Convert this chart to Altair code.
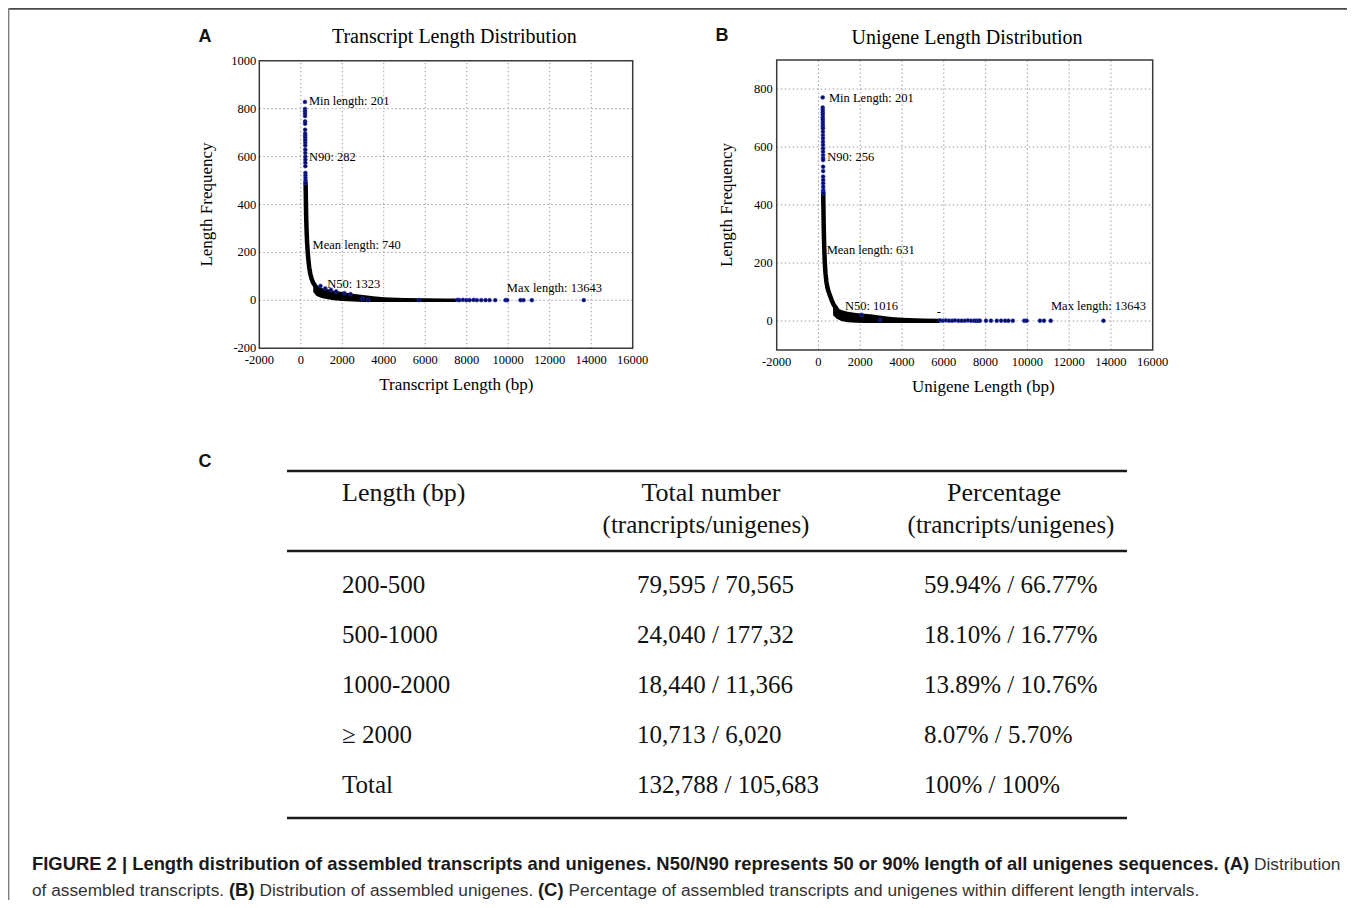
import altair as alt
import pandas as pd

W, H = 1339, 892
SERIF = "Liberation Serif"
SANS = "Liberation Sans"
INK = "#000000"
PT_FILL = "#0b0b52"
PT_STROKE = "#2436d6"

# ---------------- Panel A : transcripts ----------------
A_len_ticks = [-2000, 0, 2000, 4000, 6000, 8000, 10000, 12000, 14000, 16000]
A_freq_ticks = [-200, 0, 200, 400, 600, 800, 1000]
A_len_grid = [0, 2000, 4000, 6000, 8000, 10000, 12000, 14000]
A_freq_grid = [0, 200, 400, 600, 800]

A_col_len = [201, 203, 204, 205, 206, 207, 208, 209, 210, 211, 212, 213, 214,
             215, 216, 217, 218, 219, 220, 221, 223, 224, 226, 228, 230]
A_col_freq = [828, 799, 789, 779, 769, 747, 737, 712, 696, 687, 678, 668, 657,
              646, 629, 615, 599, 587, 574, 560, 532, 521, 511, 500, 490]

A_curve_len = [230, 240, 248, 262, 280, 305, 335, 370, 410, 460, 520, 590, 680, 780]
A_curve_freq = [490, 450, 400, 340, 290, 240, 200, 165, 135, 110, 90, 75, 62, 52]

A_band_len = [600, 760, 1000, 1300, 1600, 2000, 2500, 3000, 3500, 4000, 5000, 6000, 7000, 7500]
A_band_hi = [78, 62, 52, 46, 40, 35, 28, 22, 17, 13, 10, 9, 8, 8]
A_band_lo = [35, 18, 10, 5, 0, -3, -5, -7, -7, -7, -7, -7, -7, -7]

A_dot_len = [950, 1180, 1450, 1700, 2100, 2400, 2975, 3245, 5700, 7560, 7640, 7815,
             7979, 8138, 8330, 8489, 8700, 8907, 9100, 9375, 9870, 9952, 10592,
             10736, 11136, 13643]
A_dot_freq = [60, 50, 44, 37, 30, 26, 7, 1, 1, 2, 1, 2, 1, 1, 2, 1, 1, 1, 1, 1, 1,
              1, 1, 1, 1, 1]

A_note_text = ["Min length: 201", "N90: 282", "Mean length: 740", "N50: 1323",
               "Max length: 13643"]
A_note_len = [390, 390, 568, 1272, 9933]
A_note_freq = [833, 600, 229, 67, 53]

# ---------------- Panel B : unigenes ----------------
B_len_ticks = [-2000, 0, 2000, 4000, 6000, 8000, 10000, 12000, 14000, 16000]
B_freq_ticks = [0, 200, 400, 600, 800]
B_len_grid = [0, 2000, 4000, 6000, 8000, 10000, 12000, 14000]
B_freq_grid = [0, 200, 400, 600, 800]

B_col_len = [201, 202, 203, 204, 205, 206, 207, 208, 209, 210, 211, 212, 213, 214,
             215, 216, 217, 218, 219, 220, 221, 222, 223, 224, 225, 226, 227, 228,
             228, 228, 228]
B_col_freq = [771, 736, 728, 720, 712, 703, 695, 687, 679, 671, 664, 653, 641, 630,
              618, 607, 595, 584, 572, 561, 555, 532, 517, 498, 486, 475, 463, 452,
              446, 443, 440]

B_curve_len = [228, 235, 245, 258, 275, 300, 335, 380, 430, 490, 550, 630, 730, 870]
B_curve_freq = [440, 400, 350, 300, 255, 205, 165, 135, 115, 100, 88, 72, 56, 42]

B_band_len = [700, 870, 1100, 1400, 1800, 2200, 2500, 3000, 3500, 4000, 5000, 5800]
B_band_hi = [62, 46, 38, 32, 28, 25, 23, 18, 14, 11, 9, 8]
B_band_lo = [20, 8, 0, -4, -6, -7, -7, -7, -7, -7, -7, -7]

B_dot_len = [2068, 2945, 5816, 5950, 6100, 6250, 6400, 6535, 6700, 6850, 7000, 7150,
             7300, 7450, 7550, 7650, 7730, 8017, 8256, 8535, 8745, 8937, 9095, 9303,
             9853, 9967, 10603, 10795, 11115, 13643]
B_dot_freq = [21, 3, 2, 1, 2, 1, 1, 2, 1, 1, 1, 2, 1, 1, 1, 1, 1, 1, 1, 1, 1, 1, 1, 1,
              1, 1, 1, 1, 1, 1]

B_note_text = ["Min Length: 201", "N90: 256", "Mean length: 631", "N50: 1016",
               "Max length: 13643", "-"]
B_note_len = [503, 422, 392, 1268, 11130, 5658]
B_note_freq = [768, 566, 245, 53, 52, 30]

# ---------------- Table C ----------------
C_head1 = ["Length (bp)", "Total number", "Percentage"]
C_head2 = ["", "(trancripts/unigenes)", "(trancripts/unigenes)"]
C_len = ["200-500", "500-1000", "1000-2000", "\u2265 2000", "Total"]
C_total = ["79,595 / 70,565", "24,040 / 177,32", "18,440 / 11,366", "10,713 / 6,020",
           "132,788 / 105,683"]
C_pct = ["59.94% / 66.77%", "18.10% / 16.77%", "13.89% / 10.76%", "8.07% / 5.70%",
         "100% / 100%"]

CAP1_BOLD = ("FIGURE 2 | Length distribution of assembled transcripts and unigenes. "
             "N50/N90 represents 50 or 90% length of all unigenes sequences. (A)")
CAP1_REG = "Distribution"
CAP2 = [("of assembled transcripts.", False), ("(B)", True),
        ("Distribution of assembled unigenes.", False), ("(C)", True),
        ("Percentage of assembled transcripts and unigenes within different length intervals.", False)]


def panel(p):
    xs = alt.Scale(domain=p["xdom"], range=p["xrange"], nice=False, zero=False)
    ys = alt.Scale(domain=p["ydom"], range=p["yrange"], nice=False, zero=False)
    X = lambda f: alt.X(f, type="quantitative", scale=xs, axis=None)
    Y = lambda f: alt.Y(f, type="quantitative", scale=ys, axis=None)

    gx = alt.Chart(pd.DataFrame({"v": p["xgrid"], "lo": p["ydom"][0], "hi": p["ydom"][1]})).mark_rule(
        color="#a0a0a0", strokeDash=[1.5, 2.5], strokeWidth=1).encode(x=X("v"), y=Y("lo"), y2="hi")
    gy = alt.Chart(pd.DataFrame({"v": p["ygrid"], "lo": p["xdom"][0], "hi": p["xdom"][1]})).mark_rule(
        color="#a0a0a0", strokeDash=[1.5, 2.5], strokeWidth=1).encode(y=Y("v"), x=X("lo"), x2="hi")
    band = alt.Chart(pd.DataFrame({"l": p["band_len"], "hi": p["band_hi"], "lo": p["band_lo"]})).mark_area(
        color=INK).encode(x=X("l"), y=Y("lo"), y2="hi")
    curve = alt.Chart(pd.DataFrame({"l": p["curve_len"], "f": p["curve_freq"]})).mark_line(
        color=INK, strokeWidth=4.5, strokeCap="round").encode(x=X("l"), y=Y("f"))
    col = alt.Chart(pd.DataFrame({"l": p["col_len"], "f": p["col_freq"]})).mark_circle(
        size=15, color=PT_FILL, opacity=1, stroke=PT_STROKE, strokeWidth=0.6).encode(x=X("l"), y=Y("f"))
    dots = alt.Chart(pd.DataFrame({"l": p["dot_len"], "f": p["dot_freq"]})).mark_circle(
        size=15, color=PT_FILL, opacity=1, stroke=PT_STROKE, strokeWidth=0.6).encode(x=X("l"), y=Y("f"))
    frame = alt.Chart(pd.DataFrame({"x0": [p["xdom"][0]], "x1": [p["xdom"][1]],
                                    "y0": [p["ydom"][0]], "y1": [p["ydom"][1]]})).mark_rect(
        fillOpacity=0, stroke="#3a3a3a", strokeWidth=1.5).encode(x=X("x0"), x2="x1", y=Y("y0"), y2="y1")
    # tick labels, drawn at the tick values through the panel scales
    xlab = alt.Chart(pd.DataFrame({"v": p["xticks"], "t": [str(v) for v in p["xticks"]],
                                   "b": p["ydom"][0]})).mark_text(
        font=SERIF, fontSize=12.5, align="center", baseline="middle", dy=12, color=INK).encode(
        x=X("v"), y=Y("b"), text="t:N")
    ylab = alt.Chart(pd.DataFrame({"v": p["yticks"], "t": [str(v) for v in p["yticks"]],
                                   "b": p["xdom"][0]})).mark_text(
        font=SERIF, fontSize=12.5, align="right", baseline="middle", dx=-p["ylab_pad"], color=INK).encode(
        x=X("b"), y=Y("v"), text="t:N")
    xtitle = alt.Chart(pd.DataFrame({"l": [p["xtitle_len"]], "f": [p["ydom"][0]], "t": [p["xtitle"]]})).mark_text(
        font=SERIF, fontSize=17, align="center", baseline="middle", dy=37, color=INK).encode(
        x=X("l"), y=Y("f"), text="t:N")
    ytitle = alt.Chart(pd.DataFrame({"l": [p["ytitle_len"]], "f": [p["ytitle_freq"]],
                                     "t": ["Length Frequency"]})).mark_text(
        font=SERIF, fontSize=17, align="center", baseline="middle", angle=270, color=INK).encode(
        x=X("l"), y=Y("f"), text="t:N")
    notes = alt.Chart(pd.DataFrame({"l": p["note_len"], "f": p["note_freq"], "t": p["note_text"]})).mark_text(
        font=SERIF, fontSize=12.5, align="left", baseline="middle", color=INK).encode(
        x=X("l"), y=Y("f"), text="t:N")
    title = alt.Chart(pd.DataFrame({"l": [p["title_len"]], "f": [p["title_freq"]], "t": [p["title"]]})).mark_text(
        font=SERIF, fontSize=20, align="center", baseline="middle", color=INK).encode(
        x=X("l"), y=Y("f"), text="t:N")
    return alt.layer(gx, gy, band, curve, col, dots, frame, xlab, ylab, xtitle, ytitle, notes, title)


panelA = panel(dict(
    xdom=[-2000, 16000], ydom=[-200, 1000], xrange=[251.3, 624.7], yrange=[340.3, 52.7],
    xticks=A_len_ticks, yticks=A_freq_ticks, xgrid=A_len_grid, ygrid=A_freq_grid, ylab_pad=3,
    xtitle="Transcript Length (bp)", xtitle_len=7500, ytitle_len=-4507, ytitle_freq=400,
    col_len=A_col_len, col_freq=A_col_freq, curve_len=A_curve_len, curve_freq=A_curve_freq,
    band_len=A_band_len, band_hi=A_band_hi, band_lo=A_band_lo,
    dot_len=A_dot_len, dot_freq=A_dot_freq,
    note_len=A_note_len, note_freq=A_note_freq, note_text=A_note_text,
    title="Transcript Length Distribution", title_len=7400, title_freq=1100))

panelB = panel(dict(
    xdom=[-2000, 16000], ydom=[-100, 900], xrange=[768.7, 1144.7], yrange=[342, 52],
    xticks=B_len_ticks, yticks=B_freq_ticks, xgrid=B_len_grid, ygrid=B_freq_grid, ylab_pad=4,
    xtitle="Unigene Length (bp)", xtitle_len=7890, ytitle_len=-4379, ytitle_freq=400,
    col_len=B_col_len, col_freq=B_col_freq, curve_len=B_curve_len, curve_freq=B_curve_freq,
    band_len=B_band_len, band_hi=B_band_hi, band_lo=B_band_lo,
    dot_len=B_dot_len, dot_freq=B_dot_freq,
    note_len=B_note_len, note_freq=B_note_freq, note_text=B_note_text,
    title="Unigene Length Distribution", title_len=7110, title_freq=976))

one = pd.DataFrame({"k": [0]})


def txt(t, x, y, font=SERIF, size=25, align="left", baseline="middle", weight="normal", color="#111"):
    return alt.Chart(one).mark_text(text=t, font=font, fontSize=size, align=align, baseline=baseline,
                                    fontWeight=weight, color=color).encode(x=alt.value(x), y=alt.value(y))


def hrule(x1, x2, y, w=2.5, color="#1a1a1a"):
    return alt.Chart(one).mark_rule(color=color, strokeWidth=w).encode(
        x=alt.value(x1), x2=alt.value(x2), y=alt.value(y))


rows = []
for i in range(len(C_len)):
    rows.append({"row": i, "col": 0, "t": C_len[i]})
    rows.append({"row": i, "col": 1, "t": C_total[i]})
    rows.append({"row": i, "col": 2, "t": C_pct[i]})
body = alt.Chart(pd.DataFrame(rows)).mark_text(font=SERIF, fontSize=25, align="left",
                                               baseline="middle", color="#111").encode(
    x=alt.X("col:Q", scale=alt.Scale(domain=[0, 1, 2], range=[334, 629, 916]), axis=None),
    y=alt.Y("row:Q", scale=alt.Scale(domain=[0, 4], range=[577, 777], zero=False), axis=None),
    text="t:N")

layers = [
    body,
    txt(C_head1[0], 334, 485, size=26),
    txt(C_head1[1], 703, 485, size=26, align="center"),
    txt(C_head2[1], 698, 517, size=25, align="center"),
    txt(C_head1[2], 996, 485, size=26, align="center"),
    txt(C_head2[2], 1003, 517, size=25, align="center"),
    hrule(279, 1119, 463), hrule(279, 1119, 543), hrule(279, 1119, 810),
    txt("A", 197, 29, font=SANS, size=18, align="center", weight="bold", color="#111"),
    txt("B", 714, 28, font=SANS, size=18, align="center", weight="bold", color="#111"),
    txt("C", 197, 454, font=SANS, size=18, align="center", weight="bold", color="#111"),
    txt(CAP1_BOLD, 24, 862, font=SANS, size=18.4, baseline="alphabetic", weight="bold", color="#1a1a1a"),
    txt(CAP1_REG, 1246, 862, font=SANS, size=17.3, baseline="alphabetic", color="#333"),
    hrule(0, W, 0.8, w=1.8, color="#4a4a4a"),
    alt.Chart(one).mark_rule(color="#808080", strokeWidth=1.8).encode(
        x=alt.value(0.5), y=alt.value(0), y2=alt.value(H)),
]
cap2_x = [24, 221, 251.5, 530, 560.5]
for (t, b), x in zip(CAP2, cap2_x):
    layers.append(txt(t, x, 888, font=SANS, size=18.4 if b else 17.3, baseline="alphabetic",
                      weight="bold" if b else "normal", color="#1a1a1a" if b else "#333"))

table = alt.layer(*layers)

chart = alt.layer(panelA, panelB, table).resolve_scale(
    x="independent", y="independent"
).properties(
    width=W, height=H, autosize=alt.AutoSizeParams(type="none"), padding=0
).configure_view(stroke=None)

chart.save("out.html", embed_options={"renderer": "svg", "actions": False})
